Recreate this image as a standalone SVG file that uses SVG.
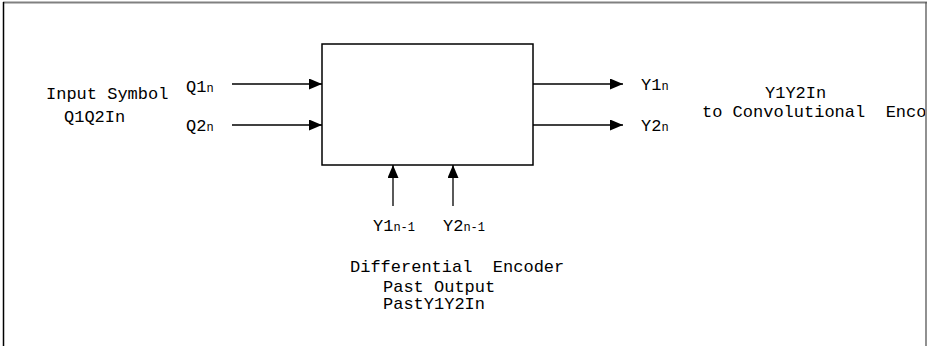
<svg xmlns="http://www.w3.org/2000/svg" width="931" height="346" viewBox="0 0 931 346">
<style>
text{font-family:"Liberation Mono","Courier New",monospace;font-size:17px;fill:#000;white-space:pre}
.sub{font-size:12px}
.ln{stroke:#000;stroke-width:1.3;fill:none}
</style>
<defs>
<marker id="ah" markerWidth="13" markerHeight="11" refX="13" refY="5.5" orient="auto" markerUnits="userSpaceOnUse">
<path d="M0,0 L13,5.5 L0,11 Z" fill="#000"/>
</marker>
<clipPath id="clip"><rect x="0" y="0" width="925" height="346"/></clipPath>
</defs>
<rect width="931" height="346" fill="#fff"/>
<g id="frame">
<line x1="3" y1="2.5" x2="927" y2="2.5" stroke="#808080" stroke-width="2"/>
<line x1="3.5" y1="2" x2="3.5" y2="346" stroke="#000" stroke-width="1.5"/>
<line x1="926" y1="2" x2="926" y2="346" stroke="#555" stroke-width="1.3"/>
</g>
<g id="encoder">
<rect x="322" y="44" width="211" height="121" fill="#fff" stroke="#000" stroke-width="1.5"/>
</g>
<g id="connectors">
<line class="ln" x1="232" y1="84" x2="322" y2="84" marker-end="url(#ah)"/>
<line class="ln" x1="232" y1="125" x2="322" y2="125" marker-end="url(#ah)"/>
<line class="ln" x1="533" y1="84" x2="623" y2="84" marker-end="url(#ah)"/>
<line class="ln" x1="533" y1="125" x2="623" y2="125" marker-end="url(#ah)"/>
<line class="ln" x1="393" y1="206" x2="393" y2="165" marker-end="url(#ah)"/>
<line class="ln" x1="453" y1="206" x2="453" y2="165" marker-end="url(#ah)"/>
</g>
<g id="input-label">
<text x="46" y="99">Input Symbol</text>
<text x="64" y="122">Q1Q2In</text>
</g>
<g id="q-labels">
<text x="186" y="92">Q1<tspan class="sub">n</tspan></text>
<text x="186" y="131">Q2<tspan class="sub">n</tspan></text>
</g>
<g id="y-labels">
<text x="641" y="90">Y1<tspan class="sub">n</tspan></text>
<text x="641" y="131">Y2<tspan class="sub">n</tspan></text>
</g>
<g id="output-label" clip-path="url(#clip)">
<text x="765" y="98">Y1Y2In</text>
<text x="702" y="117" xml:space="preserve">to Convolutional  Encoder</text>
</g>
<g id="past-labels">
<text x="373" y="231">Y1<tspan class="sub">n-1</tspan></text>
<text x="443" y="231">Y2<tspan class="sub">n-1</tspan></text>
</g>
<g id="past-label">
<text x="350" y="272" xml:space="preserve">Differential  Encoder</text>
<text x="383" y="292">Past Output</text>
<text x="383" y="309">PastY1Y2In</text>
</g>
</svg>
